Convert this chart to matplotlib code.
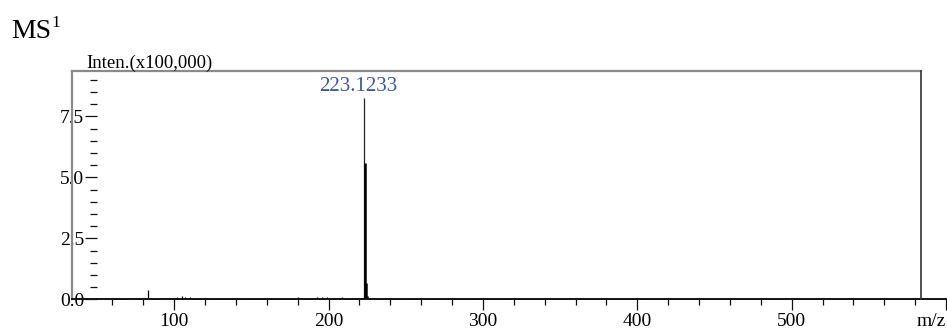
import matplotlib
matplotlib.use("Agg")
import matplotlib.pyplot as plt
from matplotlib.lines import Line2D
from matplotlib.ticker import MultipleLocator, FixedLocator

plt.rcParams['font.family'] = ['Liberation Serif', 'DejaVu Serif']

# ---- data (intensity in units of 100,000) ----
main_mz = [223.12, 223.35, 224.12, 225.10]
main_int = [8.24, 5.57, 0.68, 0.12]

noise_mz = [55, 58, 62, 67, 70, 74, 77, 81, 83.0, 86, 91, 95, 99, 102, 105, 107,
            110, 115, 121, 128, 135, 141, 149, 155, 163, 170, 176, 180, 186, 192.5,
            196, 199, 205, 208.5, 213, 218, 229, 237, 245, 253, 262, 271, 283, 295,
            303, 318, 331, 345, 360, 373, 389, 402, 418, 433, 447, 462, 479, 491,
            506, 522, 537, 553, 569, 581]
noise_int = [0.04, 0.03, 0.05, 0.04, 0.06, 0.04, 0.05, 0.07, 0.37, 0.06, 0.05, 0.04, 0.06, 0.08, 0.12, 0.10,
             0.09, 0.05, 0.04, 0.05, 0.04, 0.06, 0.05, 0.04, 0.05, 0.04, 0.05, 0.10, 0.05, 0.08,
             0.08, 0.08, 0.05, 0.11, 0.06, 0.04, 0.05, 0.04, 0.03, 0.04, 0.03, 0.04, 0.03, 0.04,
             0.03, 0.04, 0.03, 0.03, 0.04, 0.03, 0.03, 0.04, 0.03, 0.03, 0.03, 0.04, 0.03, 0.03,
             0.03, 0.03, 0.04, 0.03, 0.03, 0.03]

label_mz = 223.1233
label_text = "223.1233"

x_major = [100, 200, 300, 400, 500]
y_major = [0.0, 2.5, 5.0, 7.5]
y_labels = ["0.0", "2.5", "5.0", "7.5"]

xmin, xmax = 50, 600
ymax = 9.36

W, H = 947, 329
fig = plt.figure(figsize=(W / 100, H / 100), dpi=100)

def fx(px):
    return px / W

def fy(py):
    return 1 - py / H

ax_l, ax_r, ax_t, ax_b = 97, 946, 71, 299.3
ax = fig.add_axes([fx(ax_l), fy(ax_b), fx(ax_r) - fx(ax_l), fy(ax_t) - fy(ax_b)])
ax.set_xlim(xmin, xmax)
ax.set_ylim(0, ymax)
ax.patch.set_alpha(0)

for s in ['top', 'right', 'left']:
    ax.spines[s].set_visible(False)
ax.spines['bottom'].set_linewidth(1.4)
ax.spines['bottom'].set_color('#111111')

# box frame (offset to the left)
bx_l, bx_r = 72, 921
fig.add_artist(Line2D([fx(bx_l), fx(bx_l)], [fy(ax_b), fy(ax_t)], color='#8a8a8a', lw=1.6))
fig.add_artist(Line2D([fx(bx_l), fx(bx_r)], [fy(ax_t), fy(ax_t)], color='#8a8a8a', lw=1.6))
fig.add_artist(Line2D([fx(bx_r), fx(bx_r)], [fy(ax_t), fy(ax_b)], color='#333333', lw=1.2))
fig.add_artist(Line2D([fx(bx_l), fx(ax_l)], [fy(ax_b), fy(ax_b)], color='#111111', lw=1.4))

# spectrum
ax.vlines(noise_mz, 0, noise_int, color='black', lw=0.9)
ax.vlines(main_mz[0], 0, main_int[0], color='#222222', lw=0.9)
ax.vlines(main_mz[1:], 0, main_int[1:], color='black', lw=1.8)

ax.annotate(label_text, xy=(label_mz, main_int[0]), xytext=(-4, 1.5),
            textcoords='offset points', color='#3a55a6', fontsize=15,
            ha='center', va='bottom')

# x ticks
ax.xaxis.set_major_locator(FixedLocator(x_major + [600]))
ax.set_xticklabels([str(v) for v in x_major] + [""])
ax.xaxis.set_minor_locator(MultipleLocator(20))
ax.tick_params(axis='x', which='major', direction='out', length=8, width=0.9,
               pad=2, labelsize=14, color='#111111')
ax.tick_params(axis='x', which='minor', direction='out', length=4.3, width=0.9,
               color='#111111')

# y ticks
ax.yaxis.set_major_locator(FixedLocator(y_major))
ax.set_yticklabels(y_labels)
ax.yaxis.set_minor_locator(MultipleLocator(0.5))
ax.tick_params(axis='y', which='major', direction='out', length=8.5, width=0.9,
               pad=0.8, labelsize=14, color='#111111')
ax.tick_params(axis='y', which='minor', direction='out', length=4.8, width=0.9,
               color='#111111')

# texts
fig.text(fx(946), fy(321), "m/z", ha='right', va='center', fontsize=14)
fig.text(fx(86), fy(68), "Inten.(x100,000)", ha='left', va='baseline', fontsize=13.5)
fig.text(fx(11), fy(38), "MS", ha='left', va='baseline', fontsize=20)
fig.text(fx(51), fy(27), "1", ha='left', va='baseline', fontsize=12.5)

fig.savefig("out.png", dpi=100)
